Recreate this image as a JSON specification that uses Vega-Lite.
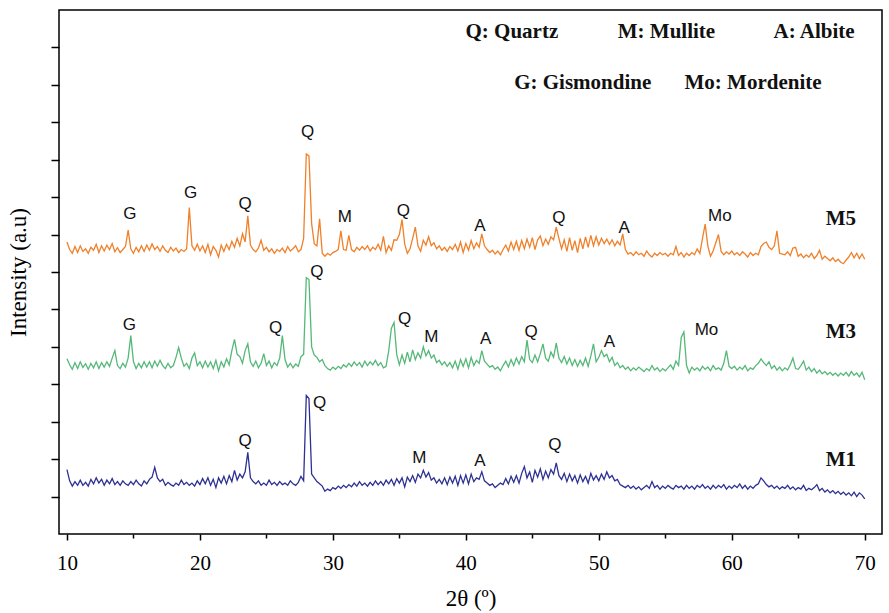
{
"$schema": "https://vega.github.io/schema/vega-lite/v6.json",
"width": 823, "height": 524,
"autosize": {"type": "none"},
"padding": {"left": 59, "top": 10, "right": 7, "bottom": 79},
"background": "white",
"config": {"view": {"stroke": "#000", "strokeWidth": 1.5}},
"datasets": {
"xrd": [
{"t":10.0,"M1":1.72,"M3":4.68,"M5":7.8},{"t":10.2,"M1":1.42,"M3":4.52,"M5":7.6},{"t":10.4,"M1":1.28,"M3":4.4,"M5":7.5},{"t":10.6,"M1":1.4,"M3":4.58,"M5":7.68},{"t":10.8,"M1":1.3,"M3":4.42,"M5":7.52},
{"t":11.0,"M1":1.44,"M3":4.6,"M5":7.7},{"t":11.2,"M1":1.3,"M3":4.45,"M5":7.55},{"t":11.4,"M1":1.38,"M3":4.55,"M5":7.62},{"t":11.6,"M1":1.28,"M3":4.4,"M5":7.5},{"t":11.8,"M1":1.46,"M3":4.56,"M5":7.66},
{"t":12.0,"M1":1.34,"M3":4.44,"M5":7.58},{"t":12.2,"M1":1.5,"M3":4.6,"M5":7.74},{"t":12.4,"M1":1.36,"M3":4.42,"M5":7.52},{"t":12.6,"M1":1.46,"M3":4.58,"M5":7.7},{"t":12.8,"M1":1.3,"M3":4.46,"M5":7.56},
{"t":13.0,"M1":1.44,"M3":4.6,"M5":7.72},{"t":13.2,"M1":1.34,"M3":4.48,"M5":7.6},{"t":13.4,"M1":1.48,"M3":4.7,"M5":7.76},{"t":13.6,"M1":1.32,"M3":4.9,"M5":7.54},{"t":13.8,"M1":1.4,"M3":4.5,"M5":7.65},
{"t":14.0,"M1":1.3,"M3":4.42,"M5":7.52},{"t":14.2,"M1":1.42,"M3":4.56,"M5":7.6},{"t":14.4,"M1":1.34,"M3":4.46,"M5":7.68},{"t":14.6,"M1":1.3,"M3":4.7,"M5":8.12},{"t":14.8,"M1":1.4,"M3":5.3,"M5":7.62},
{"t":15.0,"M1":1.32,"M3":4.6,"M5":7.5},{"t":15.2,"M1":1.44,"M3":4.42,"M5":7.66},{"t":15.4,"M1":1.34,"M3":4.56,"M5":7.54},{"t":15.6,"M1":1.28,"M3":4.44,"M5":7.7},{"t":15.8,"M1":1.42,"M3":4.6,"M5":7.55},
{"t":16.0,"M1":1.34,"M3":4.46,"M5":7.72},{"t":16.2,"M1":1.46,"M3":4.6,"M5":7.58},{"t":16.4,"M1":1.52,"M3":4.44,"M5":7.75},{"t":16.6,"M1":1.78,"M3":4.62,"M5":7.6},{"t":16.8,"M1":1.5,"M3":4.48,"M5":7.68},
{"t":17.0,"M1":1.4,"M3":4.64,"M5":7.55},{"t":17.2,"M1":1.46,"M3":4.5,"M5":7.7},{"t":17.4,"M1":1.3,"M3":4.42,"M5":7.58},{"t":17.6,"M1":1.38,"M3":4.56,"M5":7.52},{"t":17.8,"M1":1.32,"M3":4.44,"M5":7.66},
{"t":18.0,"M1":1.28,"M3":4.5,"M5":7.56},{"t":18.2,"M1":1.36,"M3":4.72,"M5":7.64},{"t":18.4,"M1":1.3,"M3":4.98,"M5":7.52},{"t":18.6,"M1":1.44,"M3":4.7,"M5":7.6},{"t":18.8,"M1":1.32,"M3":4.48,"M5":7.55},
{"t":19.0,"M1":1.38,"M3":4.56,"M5":7.62},{"t":19.2,"M1":1.3,"M3":4.42,"M5":8.72},{"t":19.4,"M1":1.36,"M3":4.7,"M5":7.7},{"t":19.6,"M1":1.28,"M3":4.84,"M5":7.58},{"t":19.8,"M1":1.42,"M3":4.5,"M5":7.74},
{"t":20.0,"M1":1.32,"M3":4.6,"M5":7.56},{"t":20.2,"M1":1.48,"M3":4.44,"M5":7.7},{"t":20.4,"M1":1.34,"M3":4.62,"M5":7.52},{"t":20.6,"M1":1.5,"M3":4.46,"M5":7.74},{"t":20.8,"M1":1.3,"M3":4.6,"M5":7.46},
{"t":21.0,"M1":1.46,"M3":4.42,"M5":7.68},{"t":21.2,"M1":1.24,"M3":4.64,"M5":7.58},{"t":21.4,"M1":1.5,"M3":4.36,"M5":7.4},{"t":21.6,"M1":1.36,"M3":4.6,"M5":7.72},{"t":21.8,"M1":1.54,"M3":4.46,"M5":7.55},
{"t":22.0,"M1":1.34,"M3":4.68,"M5":7.74},{"t":22.2,"M1":1.56,"M3":4.52,"M5":7.6},{"t":22.4,"M1":1.4,"M3":4.9,"M5":7.82},{"t":22.6,"M1":1.7,"M3":5.2,"M5":7.66},{"t":22.8,"M1":1.44,"M3":4.8,"M5":7.9},
{"t":23.0,"M1":1.6,"M3":4.74,"M5":7.7},{"t":23.2,"M1":1.5,"M3":4.56,"M5":8.02},{"t":23.4,"M1":1.66,"M3":4.9,"M5":7.8},{"t":23.6,"M1":2.18,"M3":5.08,"M5":8.5},{"t":23.8,"M1":1.5,"M3":4.6,"M5":7.72},
{"t":24.0,"M1":1.4,"M3":4.48,"M5":7.6},{"t":24.2,"M1":1.34,"M3":4.62,"M5":7.54},{"t":24.4,"M1":1.42,"M3":4.44,"M5":7.64},{"t":24.6,"M1":1.3,"M3":4.56,"M5":7.85},{"t":24.8,"M1":1.36,"M3":4.82,"M5":7.58},
{"t":25.0,"M1":1.3,"M3":4.5,"M5":7.66},{"t":25.2,"M1":1.44,"M3":4.62,"M5":7.54},{"t":25.4,"M1":1.32,"M3":4.44,"M5":7.62},{"t":25.6,"M1":1.38,"M3":4.58,"M5":7.5},{"t":25.8,"M1":1.3,"M3":4.5,"M5":7.6},
{"t":26.0,"M1":1.4,"M3":4.7,"M5":7.55},{"t":26.2,"M1":1.32,"M3":5.3,"M5":7.64},{"t":26.4,"M1":1.36,"M3":4.66,"M5":7.52},{"t":26.6,"M1":1.3,"M3":4.46,"M5":7.68},{"t":26.8,"M1":1.42,"M3":4.56,"M5":7.56},
{"t":27.0,"M1":1.34,"M3":4.44,"M5":7.62},{"t":27.2,"M1":1.3,"M3":4.54,"M5":7.7},{"t":27.4,"M1":1.38,"M3":4.48,"M5":7.54},{"t":27.6,"M1":1.54,"M3":4.74,"M5":7.6},{"t":27.8,"M1":1.42,"M3":4.8,"M5":7.9},
{"t":28.0,"M1":3.7,"M3":6.85,"M5":10.15},{"t":28.2,"M1":3.62,"M3":6.8,"M5":10.1},{"t":28.4,"M1":1.6,"M3":5.0,"M5":8.3},{"t":28.6,"M1":1.5,"M3":4.78,"M5":7.75},{"t":28.8,"M1":1.4,"M3":4.72,"M5":7.7},
{"t":29.0,"M1":1.34,"M3":4.6,"M5":8.42},{"t":29.2,"M1":1.28,"M3":4.66,"M5":7.5},{"t":29.4,"M1":1.14,"M3":4.5,"M5":7.42},{"t":29.6,"M1":1.2,"M3":4.42,"M5":7.5},{"t":29.8,"M1":1.16,"M3":4.38,"M5":7.45},
{"t":30.0,"M1":1.24,"M3":4.46,"M5":7.52},{"t":30.2,"M1":1.2,"M3":4.4,"M5":7.55},{"t":30.4,"M1":1.28,"M3":4.48,"M5":7.6},{"t":30.6,"M1":1.22,"M3":4.42,"M5":8.1},{"t":30.8,"M1":1.3,"M3":4.52,"M5":7.6},
{"t":31.0,"M1":1.24,"M3":4.46,"M5":7.58},{"t":31.2,"M1":1.32,"M3":4.56,"M5":7.98},{"t":31.4,"M1":1.26,"M3":4.48,"M5":7.6},{"t":31.6,"M1":1.36,"M3":4.6,"M5":7.54},{"t":31.8,"M1":1.28,"M3":4.5,"M5":7.66},
{"t":32.0,"M1":1.4,"M3":4.58,"M5":7.58},{"t":32.2,"M1":1.3,"M3":4.46,"M5":7.68},{"t":32.4,"M1":1.36,"M3":4.62,"M5":7.6},{"t":32.6,"M1":1.28,"M3":4.5,"M5":7.7},{"t":32.8,"M1":1.38,"M3":4.6,"M5":7.56},
{"t":33.0,"M1":1.3,"M3":4.52,"M5":7.66},{"t":33.2,"M1":1.42,"M3":4.64,"M5":7.6},{"t":33.4,"M1":1.32,"M3":4.5,"M5":7.74},{"t":33.6,"M1":1.4,"M3":4.58,"M5":7.58},{"t":33.8,"M1":1.3,"M3":4.44,"M5":7.95},
{"t":34.0,"M1":1.44,"M3":4.48,"M5":7.52},{"t":34.2,"M1":1.34,"M3":4.9,"M5":7.7},{"t":34.4,"M1":1.46,"M3":5.5,"M5":7.58},{"t":34.6,"M1":1.3,"M3":5.65,"M5":7.86},{"t":34.8,"M1":1.48,"M3":4.8,"M5":7.85},
{"t":35.0,"M1":1.36,"M3":4.52,"M5":8.0},{"t":35.2,"M1":1.5,"M3":4.78,"M5":8.4},{"t":35.4,"M1":1.26,"M3":4.56,"M5":7.75},{"t":35.6,"M1":1.52,"M3":4.86,"M5":7.5},{"t":35.8,"M1":1.4,"M3":4.6,"M5":7.62},
{"t":36.0,"M1":1.56,"M3":4.92,"M5":7.9},{"t":36.2,"M1":1.38,"M3":4.66,"M5":8.2},{"t":36.4,"M1":1.6,"M3":4.84,"M5":7.7},{"t":36.6,"M1":1.5,"M3":4.7,"M5":7.55},{"t":36.8,"M1":1.7,"M3":5.0,"M5":7.85},
{"t":37.0,"M1":1.52,"M3":4.76,"M5":7.72},{"t":37.2,"M1":1.64,"M3":4.9,"M5":7.94},{"t":37.4,"M1":1.44,"M3":4.7,"M5":7.7},{"t":37.6,"M1":1.5,"M3":4.78,"M5":7.78},{"t":37.8,"M1":1.36,"M3":4.58,"M5":7.62},
{"t":38.0,"M1":1.46,"M3":4.64,"M5":7.7},{"t":38.2,"M1":1.34,"M3":4.52,"M5":7.58},{"t":38.4,"M1":1.5,"M3":4.6,"M5":7.66},{"t":38.6,"M1":1.32,"M3":4.48,"M5":7.55},{"t":38.8,"M1":1.52,"M3":4.58,"M5":7.68},
{"t":39.0,"M1":1.36,"M3":4.44,"M5":7.6},{"t":39.2,"M1":1.54,"M3":4.62,"M5":7.74},{"t":39.4,"M1":1.3,"M3":4.4,"M5":7.56},{"t":39.6,"M1":1.56,"M3":4.66,"M5":7.8},{"t":39.8,"M1":1.36,"M3":4.48,"M5":7.52},
{"t":40.0,"M1":1.58,"M3":4.68,"M5":7.76},{"t":40.2,"M1":1.34,"M3":4.44,"M5":7.58},{"t":40.4,"M1":1.6,"M3":4.72,"M5":7.84},{"t":40.6,"M1":1.4,"M3":4.5,"M5":7.62},{"t":40.8,"M1":1.5,"M3":4.64,"M5":7.78},
{"t":41.0,"M1":1.46,"M3":4.56,"M5":7.66},{"t":41.2,"M1":1.66,"M3":4.9,"M5":8.02},{"t":41.4,"M1":1.42,"M3":4.62,"M5":7.7},{"t":41.6,"M1":1.36,"M3":4.54,"M5":7.6},{"t":41.8,"M1":1.3,"M3":4.46,"M5":7.52},
{"t":42.0,"M1":1.34,"M3":4.5,"M5":7.58},{"t":42.2,"M1":1.24,"M3":4.4,"M5":7.48},{"t":42.4,"M1":1.3,"M3":4.46,"M5":7.56},{"t":42.6,"M1":1.36,"M3":4.36,"M5":7.46},{"t":42.8,"M1":1.32,"M3":4.5,"M5":7.6},
{"t":43.0,"M1":1.48,"M3":4.62,"M5":7.72},{"t":43.2,"M1":1.34,"M3":4.46,"M5":7.56},{"t":43.4,"M1":1.54,"M3":4.66,"M5":7.8},{"t":43.6,"M1":1.38,"M3":4.5,"M5":7.6},{"t":43.8,"M1":1.56,"M3":4.7,"M5":7.82},
{"t":44.0,"M1":1.36,"M3":4.54,"M5":7.58},{"t":44.2,"M1":1.62,"M3":4.74,"M5":7.84},{"t":44.4,"M1":1.8,"M3":4.6,"M5":7.62},{"t":44.6,"M1":1.5,"M3":5.18,"M5":7.88},{"t":44.8,"M1":1.66,"M3":4.66,"M5":7.66},
{"t":45.0,"M1":1.38,"M3":4.58,"M5":7.92},{"t":45.2,"M1":1.7,"M3":4.78,"M5":7.6},{"t":45.4,"M1":1.52,"M3":4.6,"M5":7.86},{"t":45.6,"M1":1.74,"M3":4.82,"M5":7.96},{"t":45.8,"M1":1.46,"M3":5.08,"M5":7.7},
{"t":46.0,"M1":1.68,"M3":4.7,"M5":7.88},{"t":46.2,"M1":1.5,"M3":4.62,"M5":7.74},{"t":46.4,"M1":1.72,"M3":4.86,"M5":7.94},{"t":46.6,"M1":1.6,"M3":4.72,"M5":7.86},{"t":46.8,"M1":1.9,"M3":5.1,"M5":8.2},
{"t":47.0,"M1":1.56,"M3":4.7,"M5":7.9},{"t":47.2,"M1":1.46,"M3":4.58,"M5":7.62},{"t":47.4,"M1":1.62,"M3":4.74,"M5":7.86},{"t":47.6,"M1":1.4,"M3":4.54,"M5":7.55},{"t":47.8,"M1":1.6,"M3":4.7,"M5":7.92},
{"t":48.0,"M1":1.42,"M3":4.5,"M5":7.58},{"t":48.2,"M1":1.56,"M3":4.66,"M5":7.84},{"t":48.4,"M1":1.36,"M3":4.48,"M5":7.52},{"t":48.6,"M1":1.58,"M3":4.64,"M5":7.9},{"t":48.8,"M1":1.4,"M3":4.5,"M5":7.62},
{"t":49.0,"M1":1.54,"M3":4.7,"M5":7.94},{"t":49.2,"M1":1.36,"M3":4.48,"M5":7.66},{"t":49.4,"M1":1.62,"M3":4.76,"M5":7.98},{"t":49.6,"M1":1.44,"M3":5.08,"M5":7.7},{"t":49.8,"M1":1.56,"M3":4.6,"M5":7.94},
{"t":50.0,"M1":1.42,"M3":4.72,"M5":7.72},{"t":50.2,"M1":1.6,"M3":4.9,"M5":7.9},{"t":50.4,"M1":1.46,"M3":4.74,"M5":7.76},{"t":50.6,"M1":1.66,"M3":4.8,"M5":7.88},{"t":50.8,"M1":1.5,"M3":4.6,"M5":7.74},
{"t":51.0,"M1":1.56,"M3":4.72,"M5":7.86},{"t":51.2,"M1":1.42,"M3":4.5,"M5":7.7},{"t":51.4,"M1":1.46,"M3":4.58,"M5":7.82},{"t":51.6,"M1":1.32,"M3":4.44,"M5":7.72},{"t":51.8,"M1":1.28,"M3":4.5,"M5":8.02},
{"t":52.0,"M1":1.24,"M3":4.4,"M5":7.6},{"t":52.2,"M1":1.3,"M3":4.46,"M5":7.48},{"t":52.4,"M1":1.22,"M3":4.36,"M5":7.52},{"t":52.6,"M1":1.28,"M3":4.44,"M5":7.44},{"t":52.8,"M1":1.2,"M3":4.38,"M5":7.54},
{"t":53.0,"M1":1.26,"M3":4.46,"M5":7.46},{"t":53.2,"M1":1.18,"M3":4.4,"M5":7.5},{"t":53.4,"M1":1.24,"M3":4.34,"M5":7.42},{"t":53.6,"M1":1.3,"M3":4.42,"M5":7.56},{"t":53.8,"M1":1.22,"M3":4.36,"M5":7.46},
{"t":54.0,"M1":1.4,"M3":4.5,"M5":7.4},{"t":54.2,"M1":1.24,"M3":4.38,"M5":7.5},{"t":54.4,"M1":1.3,"M3":4.44,"M5":7.44},{"t":54.6,"M1":1.2,"M3":4.34,"M5":7.52},{"t":54.8,"M1":1.28,"M3":4.42,"M5":7.46},
{"t":55.0,"M1":1.22,"M3":4.36,"M5":7.5},{"t":55.2,"M1":1.3,"M3":4.44,"M5":7.42},{"t":55.4,"M1":1.24,"M3":4.52,"M5":7.5},{"t":55.6,"M1":1.2,"M3":4.4,"M5":7.46},{"t":55.8,"M1":1.3,"M3":4.62,"M5":7.68},
{"t":56.0,"M1":1.24,"M3":4.5,"M5":7.44},{"t":56.2,"M1":1.28,"M3":5.25,"M5":7.52},{"t":56.4,"M1":1.2,"M3":5.4,"M5":7.4},{"t":56.6,"M1":1.3,"M3":4.5,"M5":7.5},{"t":56.8,"M1":1.22,"M3":4.3,"M5":7.44},
{"t":57.0,"M1":1.28,"M3":4.46,"M5":7.52},{"t":57.2,"M1":1.2,"M3":4.38,"M5":7.46},{"t":57.4,"M1":1.3,"M3":4.44,"M5":7.62},{"t":57.6,"M1":1.24,"M3":4.36,"M5":7.5},{"t":57.8,"M1":1.32,"M3":4.48,"M5":7.9},
{"t":58.0,"M1":1.22,"M3":4.4,"M5":8.28},{"t":58.2,"M1":1.28,"M3":4.46,"M5":7.7},{"t":58.4,"M1":1.2,"M3":4.36,"M5":7.42},{"t":58.6,"M1":1.3,"M3":4.5,"M5":7.56},{"t":58.8,"M1":1.22,"M3":4.4,"M5":7.78},
{"t":59.0,"M1":1.3,"M3":4.44,"M5":8.0},{"t":59.2,"M1":1.24,"M3":4.38,"M5":7.55},{"t":59.4,"M1":1.32,"M3":4.56,"M5":7.46},{"t":59.6,"M1":1.2,"M3":4.9,"M5":7.54},{"t":59.8,"M1":1.28,"M3":4.48,"M5":7.48},
{"t":60.0,"M1":1.22,"M3":4.42,"M5":7.56},{"t":60.2,"M1":1.3,"M3":4.48,"M5":7.46},{"t":60.4,"M1":1.24,"M3":4.38,"M5":7.52},{"t":60.6,"M1":1.34,"M3":4.46,"M5":7.44},{"t":60.8,"M1":1.22,"M3":4.4,"M5":7.54},
{"t":61.0,"M1":1.3,"M3":4.5,"M5":7.48},{"t":61.2,"M1":1.2,"M3":4.36,"M5":7.4},{"t":61.4,"M1":1.28,"M3":4.44,"M5":7.52},{"t":61.6,"M1":1.22,"M3":4.4,"M5":7.44},{"t":61.8,"M1":1.3,"M3":4.5,"M5":7.5},
{"t":62.0,"M1":1.34,"M3":4.56,"M5":7.46},{"t":62.2,"M1":1.5,"M3":4.68,"M5":7.68},{"t":62.4,"M1":1.42,"M3":4.58,"M5":7.76},{"t":62.6,"M1":1.32,"M3":4.5,"M5":7.8},{"t":62.8,"M1":1.26,"M3":4.6,"M5":7.66},
{"t":63.0,"M1":1.3,"M3":4.42,"M5":7.6},{"t":63.2,"M1":1.22,"M3":4.5,"M5":7.7},{"t":63.4,"M1":1.28,"M3":4.38,"M5":8.1},{"t":63.6,"M1":1.2,"M3":4.46,"M5":7.5},{"t":63.8,"M1":1.26,"M3":4.36,"M5":7.48},
{"t":64.0,"M1":1.22,"M3":4.44,"M5":7.46},{"t":64.2,"M1":1.3,"M3":4.38,"M5":7.54},{"t":64.4,"M1":1.2,"M3":4.52,"M5":7.44},{"t":64.6,"M1":1.26,"M3":4.7,"M5":7.64},{"t":64.8,"M1":1.18,"M3":4.42,"M5":7.66},
{"t":65.0,"M1":1.24,"M3":4.4,"M5":7.42},{"t":65.2,"M1":1.2,"M3":4.5,"M5":7.48},{"t":65.4,"M1":1.3,"M3":4.62,"M5":7.38},{"t":65.6,"M1":1.16,"M3":4.38,"M5":7.46},{"t":65.8,"M1":1.22,"M3":4.46,"M5":7.4},
{"t":66.0,"M1":1.18,"M3":4.34,"M5":7.5},{"t":66.2,"M1":1.24,"M3":4.42,"M5":7.36},{"t":66.4,"M1":1.32,"M3":4.3,"M5":7.44},{"t":66.6,"M1":1.16,"M3":4.38,"M5":7.58},{"t":66.8,"M1":1.22,"M3":4.28,"M5":7.34},
{"t":67.0,"M1":1.12,"M3":4.34,"M5":7.42},{"t":67.2,"M1":1.18,"M3":4.26,"M5":7.36},{"t":67.4,"M1":1.1,"M3":4.32,"M5":7.3},{"t":67.6,"M1":1.16,"M3":4.24,"M5":7.38},{"t":67.8,"M1":1.08,"M3":4.3,"M5":7.28},
{"t":68.0,"M1":1.14,"M3":4.22,"M5":7.34},{"t":68.2,"M1":1.06,"M3":4.3,"M5":7.26},{"t":68.4,"M1":1.12,"M3":4.24,"M5":7.22},{"t":68.6,"M1":1.04,"M3":4.32,"M5":7.32},{"t":68.8,"M1":1.1,"M3":4.22,"M5":7.4},
{"t":69.0,"M1":1.02,"M3":4.34,"M5":7.52},{"t":69.2,"M1":1.12,"M3":4.24,"M5":7.38},{"t":69.4,"M1":1.0,"M3":4.3,"M5":7.5},{"t":69.6,"M1":1.1,"M3":4.2,"M5":7.36},{"t":69.8,"M1":1.04,"M3":4.32,"M5":7.48},
{"t":70.0,"M1":0.94,"M3":4.12,"M5":7.34}
],
"peaks": [
{"t":14.73,"y":8.56,"label":"G"},{"t":19.3,"y":9.12,"label":"G"},{"t":23.4,"y":8.82,"label":"Q"},{"t":28.1,"y":10.75,"label":"Q"},{"t":30.9,"y":8.48,"label":"M"},{"t":35.3,"y":8.64,"label":"Q"},{"t":41.05,"y":8.24,"label":"A"},{"t":47.0,"y":8.45,"label":"Q"},{"t":51.9,"y":8.18,"label":"A"},{"t":59.1,"y":8.5,"label":"Mo"},
{"t":14.7,"y":5.59,"label":"G"},{"t":25.7,"y":5.5,"label":"Q"},{"t":28.8,"y":7.0,"label":"Q"},{"t":35.4,"y":5.75,"label":"Q"},{"t":37.4,"y":5.27,"label":"M"},{"t":41.5,"y":5.21,"label":"A"},{"t":44.9,"y":5.4,"label":"Q"},{"t":50.8,"y":5.13,"label":"A"},{"t":58.1,"y":5.45,"label":"Mo"},
{"t":23.4,"y":2.49,"label":"Q"},{"t":29.0,"y":3.5,"label":"Q"},{"t":36.5,"y":2.03,"label":"M"},{"t":41.05,"y":1.95,"label":"A"},{"t":46.7,"y":2.38,"label":"Q"}
],
"notes": [
{"t":43.46,"y":13.42,"label":"Q: Quartz"},{"t":55.09,"y":13.42,"label":"M: Mullite"},{"t":66.19,"y":13.42,"label":"A: Albite"},
{"t":48.79,"y":12.06,"label":"G: Gismondine"},{"t":61.6,"y":12.06,"label":"Mo: Mordenite"},
{"t":68.2,"y":8.42,"label":"M5"},{"t":68.2,"y":5.4,"label":"M3"},{"t":68.2,"y":1.98,"label":"M1"}
]
},
"layer": [
{
"data": {"name": "xrd"},
"transform": [{"fold": ["M1", "M3", "M5"], "as": ["series", "intensity"]}],
"mark": {"type": "line", "strokeWidth": 1.3, "interpolate": "linear"},
"encoding": {
"x": {"field": "t", "type": "quantitative", "scale": {"domain": [9.4, 71.3], "nice": false, "zero": false},
"axis": {"title": "2θ (º)", "values": [10,15,20,25,30,35,40,45,50,55,60,65,70], "labelExpr": "datum.value % 10 === 0 ? datum.label : ''", "domain": false, "grid": false, "tickColor": "#000", "tickWidth": 1.5, "tickSize": {"condition": {"test": "datum.value % 10 === 0", "value": 6}, "value": 4}, "labelFont": "Liberation Serif", "labelFontSize": 21, "labelColor": "#000", "labelPadding": 12, "titleFont": "Liberation Serif", "titleFontSize": 23, "titleFontWeight": "normal", "titleColor": "#000", "titlePadding": 14}},
"y": {"field": "intensity", "type": "quantitative", "scale": {"domain": [0, 14], "nice": false, "zero": false},
"axis": {"title": "Intensity (a.u)", "values": [1,2,3,4,5,6,7,8,9,10,11,12,13], "labels": false, "domain": false, "grid": false, "tickColor": "#000", "tickWidth": 1.5, "tickSize": 8, "titleFont": "Liberation Serif", "titleFontSize": 23, "titleFontWeight": "normal", "titleColor": "#000", "titlePadding": 20}},
"color": {"field": "series", "type": "nominal", "scale": {"domain": ["M1", "M3", "M5"], "range": ["#2d3192", "#55b879", "#f0802a"]}, "legend": null},
"order": {"field": "t", "type": "quantitative"}
}
},
{
"data": {"name": "peaks"},
"mark": {"type": "text", "font": "Liberation Sans", "fontSize": 17, "color": "#111", "align": "center", "baseline": "middle"},
"encoding": {"x": {"field": "t", "type": "quantitative"}, "y": {"field": "y", "type": "quantitative"}, "text": {"field": "label"}}
},
{
"data": {"name": "notes"},
"mark": {"type": "text", "font": "Liberation Serif", "fontSize": 21, "fontWeight": "bold", "color": "#111", "align": "center", "baseline": "middle"},
"encoding": {"x": {"field": "t", "type": "quantitative"}, "y": {"field": "y", "type": "quantitative"}, "text": {"field": "label"}}
}
]
}
